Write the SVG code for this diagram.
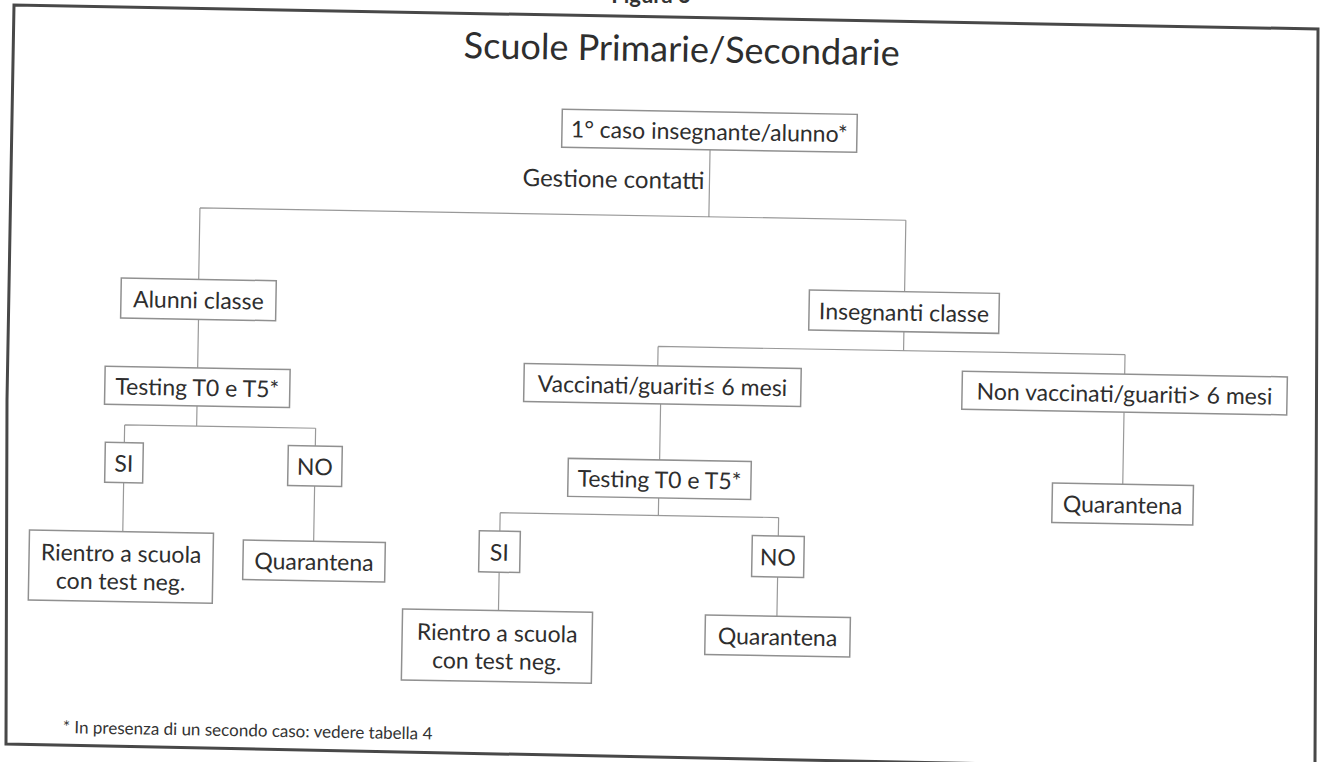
<svg xmlns="http://www.w3.org/2000/svg" width="1324" height="762" viewBox="0 0 1324 762">
<style>
.frame{fill:none;stroke:#484848;stroke-width:3}
.box{fill:#fff;stroke:#909090;stroke-width:1.5}
.conn{fill:none;stroke:#999;stroke-width:1.2}
.lbl{font-family:Lato,"Open Sans","Liberation Sans",sans-serif;font-size:23px;fill:#2e2e2e;text-anchor:middle;dominant-baseline:central}
.title{font-family:Lato,"Open Sans","Liberation Sans",sans-serif;font-size:36px;fill:#2e2e2e;text-anchor:middle}
.note{font-family:Lato,"Open Sans","Liberation Sans",sans-serif;font-size:17px;fill:#333}
</style>
<rect width="1324" height="762" fill="#fff"/>
<text x="651" y="2.5" font-family="Lato,'Open Sans',sans-serif" font-size="22" font-weight="bold" fill="#333" text-anchor="middle">Figura 3</text>
<path class="frame" d="M1315 762 L1318 29 L14 5 L7 400 L6 744 L1000 764"/>
<g transform="rotate(1 662 381)">
<text class="title" x="676" y="61.5">Scuole Primarie/Secondarie</text>
<g id="connectors">
<path class="conn" d="M706 149 V216 M197 216 H903 M197 216 V287.5 M903 216 V287.5"/>
<path class="conn" d="M197.5 327.5 V376 M197.5 414 V434.3 M125.5 434.3 H316.5 M125.5 434.3 V452 M316.5 434.3 V452 M125.5 492 V541 M316.5 492 V547"/>
<path class="conn" d="M903 327.5 V346.5 M657.5 346.5 H1124.5 M657.5 346.5 V366 M1124.5 346.5 V366 M661 404 V460 M1124.5 404 V476"/>
<path class="conn" d="M660.7 498 V515.5 M502.5 515.5 H781 M502.5 515.5 V534 M781 515.5 V534 M502.5 575 V613.4 M781 575 V614"/>
</g>
<text class="lbl" x="701" y="179" style="text-anchor:end;font-size:24px">Gestione contatti</text>
<g id="n-primo-caso"><rect class="box" x="557.6" y="111" width="295" height="38"/><text class="lbl" x="705" y="130">1° caso insegnante/alunno*</text></g>
<g id="n-alunni"><rect class="box" x="119.6" y="287.5" width="155" height="40"/><text class="lbl" x="197.1" y="307.5">Alunni classe</text></g>
<g id="n-insegnanti"><rect class="box" x="807.8" y="287.5" width="190" height="40"/><text class="lbl" x="902.8" y="307.5">Insegnanti classe</text></g>
<g id="n-testing1"><rect class="box" x="105" y="376" width="185" height="38"/><text class="lbl" x="197.5" y="395">Testing T0 e T5*</text></g>
<g id="n-si1"><rect class="box" x="106.5" y="452" width="38" height="40"/><text class="lbl" x="125.5" y="472">SI</text></g>
<g id="n-no1"><rect class="box" x="289.5" y="452" width="54" height="40"/><text class="lbl" x="316.5" y="472">NO</text></g>
<g id="n-rientro1"><rect class="box" x="32.2" y="541" width="184" height="70"/><text class="lbl" x="124.2" y="562">Rientro a scuola</text><text class="lbl" x="124.2" y="590">con test neg.</text></g>
<g id="n-quarantena1"><rect class="box" x="246.2" y="547.3" width="142" height="39.5"/><text class="lbl" x="317.2" y="567">Quarantena</text></g>
<g id="n-vaccinati"><rect class="box" x="524" y="366" width="277" height="38"/><text class="lbl" x="662.6" y="385">Vaccinati/guariti≤ 6 mesi</text></g>
<g id="n-nonvaccinati"><rect class="box" x="962.2" y="366" width="325" height="38"/><text class="lbl" x="1124.7" y="385">Non vaccinati/guariti&gt; 6 mesi</text></g>
<g id="n-testing2"><rect class="box" x="569.7" y="460" width="183" height="38"/><text class="lbl" x="661.2" y="479">Testing T0 e T5*</text></g>
<g id="n-si2"><rect class="box" x="482" y="534" width="41" height="41"/><text class="lbl" x="502.5" y="554.5">SI</text></g>
<g id="n-no2"><rect class="box" x="755" y="534" width="52" height="41"/><text class="lbl" x="781" y="554.5">NO</text></g>
<g id="n-rientro2"><rect class="box" x="406.6" y="613.4" width="190" height="71"/><text class="lbl" x="501.6" y="635">Rientro a scuola</text><text class="lbl" x="501.6" y="663">con test neg.</text></g>
<g id="n-quarantena2"><rect class="box" x="709.5" y="614.2" width="145" height="39.5"/><text class="lbl" x="782" y="634">Quarantena</text></g>
<g id="n-quarantena3"><rect class="box" x="1054.2" y="476.2" width="141" height="39.5"/><text class="lbl" x="1124.7" y="496">Quarantena</text></g>
<text class="note" x="69" y="743.5">* In presenza di un secondo caso: vedere tabella 4</text>
</g>
</svg>
